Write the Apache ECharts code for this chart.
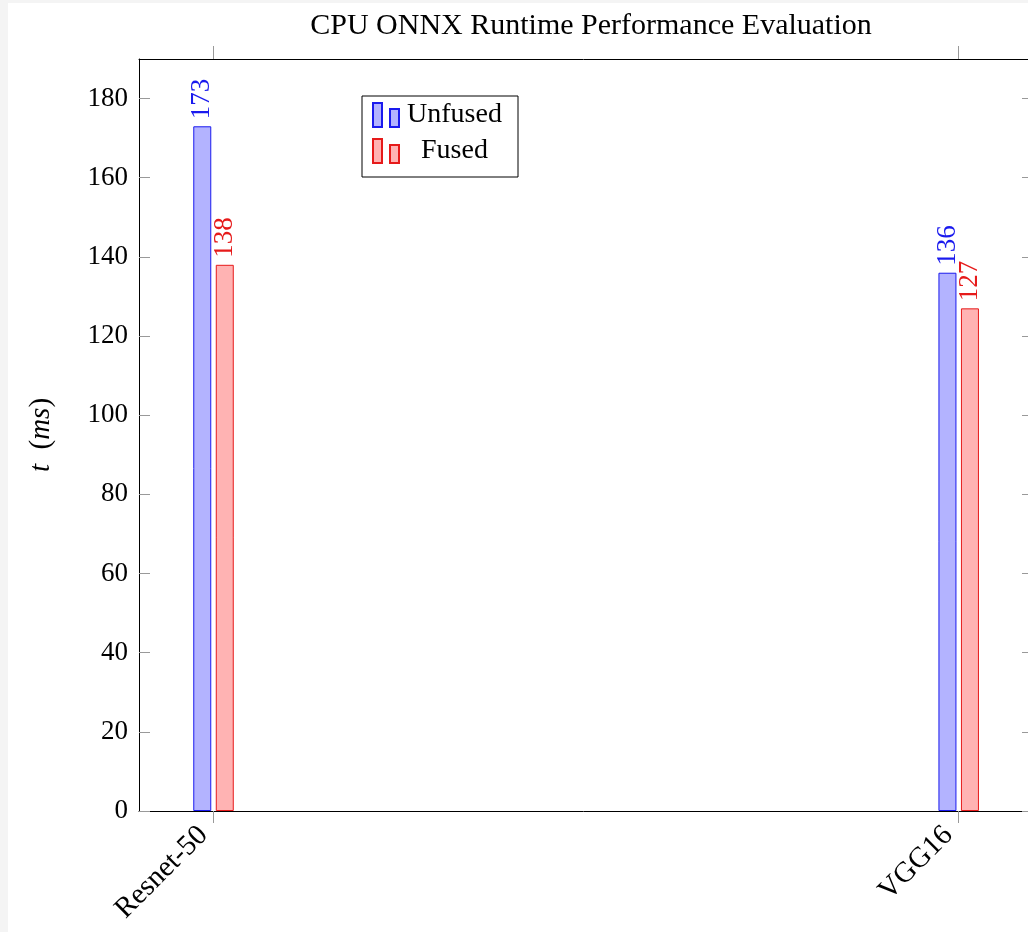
<!DOCTYPE html>
<html>
<head>
<meta charset="utf-8">
<script src="https://cdn.jsdelivr.net/npm/echarts@6/dist/echarts.min.js"></script>
<style>
  html, body { margin: 0; padding: 0; background: #f4f4f4; width: 1028px; height: 932px; overflow: hidden; }
  #chart { position: absolute; left: 8px; top: 3px; width: 1020px; height: 929px; background: #ffffff; }
</style>
</head>
<body>
<div id="chart"></div>
<script>
const categories = ['Resnet-50', 'VGG16'];
const unfused = [173, 136];
const fused = [138, 127];
const seriesNames = ['Unfused', 'Fused'];
const yTicks = [0, 20, 40, 60, 80, 100, 120, 140, 160, 180];
const xTicks = [0, 1];

const FONT = '"Liberation Serif", "DejaVu Serif", serif';
const chart = echarts.init(document.getElementById('chart'), null, { renderer: 'canvas' });

const labelCfg = (color) => ({
  show: true,
  position: 'top',
  distance: 7,
  rotate: 90,
  align: 'left',
  verticalAlign: 'middle',
  color: color,
  fontFamily: FONT,
  fontSize: 27,
  formatter: p => String(p.value[1])
});

const X_MIN = -0.1, X_MAX = 1.093;

const option = {
  animation: false,
  title: {
    text: 'CPU ONNX Runtime Performance Evaluation',
    left: 578,
    top: 3,
    textAlign: 'center',
    textStyle: { fontFamily: FONT, fontSize: 30, fontWeight: 'normal', color: '#000' }
  },
  legend: {
    orient: 'vertical',
    left: 354,
    top: 93,
    padding: [5, 13, 12, 10],
    itemGap: 8,
    itemWidth: 26,
    itemHeight: 24,
    borderColor: '#000',
    borderWidth: 1,
    icon: 'path://M0,0h9v24h-9z M17,6h9v18h-9z',
    data: seriesNames,
    formatter: '{a|{name}}',
    textStyle: {
      fontFamily: FONT,
      fontSize: 28,
      color: '#000',
      lineHeight: 24,
      rich: { a: { width: 101, align: 'center', fontFamily: FONT, fontSize: 28, color: '#000', lineHeight: 24 } }
    }
  },
  grid: { left: 131, right: 0, top: 56, bottom: 121, containLabel: false },
  xAxis: [
    {
      type: 'value',
      position: 'bottom',
      min: X_MIN,
      max: X_MAX,
      splitLine: { show: false },
      axisLine: { show: true, onZero: false, lineStyle: { color: '#000', width: 1 } },
      axisTick: { show: true, inside: false, length: 12, customValues: xTicks, lineStyle: { color: '#999' } },
      axisLabel: {
        customValues: xTicks,
        rotate: 45,
        margin: 30,
        verticalAlign: 'bottom',
        fontFamily: FONT,
        fontSize: 29,
        color: '#000',
        formatter: v => categories[Math.round(v)] || ''
      }
    },
    {
      type: 'value',
      position: 'top',
      min: X_MIN,
      max: X_MAX,
      splitLine: { show: false },
      axisLine: { show: true, onZero: false, lineStyle: { color: '#000', width: 1 } },
      axisTick: { show: true, inside: false, length: 13, customValues: xTicks, lineStyle: { color: '#999' } },
      axisLabel: { show: false }
    }
  ],
  yAxis: [
    {
      type: 'value',
      position: 'left',
      min: 0,
      max: 190,
      name: '{i|t}  ({i|ms})',
      nameLocation: 'middle',
      nameGap: 83,
      nameRotate: 90,
      nameTextStyle: {
        fontFamily: FONT, fontSize: 29, color: '#000',
        rich: { i: { fontFamily: FONT, fontSize: 29, fontStyle: 'italic', color: '#000' } }
      },
      splitLine: { show: false },
      axisLine: { show: true, onZero: false, lineStyle: { color: '#000', width: 1 } },
      axisTick: { show: true, inside: true, length: 11, customValues: yTicks, lineStyle: { color: '#999' } },
      axisLabel: { customValues: yTicks, margin: 11, fontFamily: FONT, fontSize: 27, color: '#000' }
    },
    {
      type: 'value',
      position: 'right',
      offset: 5,
      min: 0,
      max: 190,
      splitLine: { show: false },
      axisLine: { show: true, onZero: false, lineStyle: { color: '#000', width: 1 } },
      axisTick: { show: true, inside: true, length: 11, customValues: yTicks, lineStyle: { color: '#999' } },
      axisLabel: { show: false }
    }
  ],
  series: [
    {
      name: seriesNames[0],
      type: 'bar',
      xAxisIndex: 0,
      yAxisIndex: 0,
      barWidth: 18,
      barGap: '25%',
      data: unfused.map((v, i) => [i, v]),
      itemStyle: { color: '#b3b3ff', borderColor: '#1a1aee', borderWidth: 1 },
      label: labelCfg('#1a1aee')
    },
    {
      name: seriesNames[1],
      type: 'bar',
      xAxisIndex: 0,
      yAxisIndex: 0,
      barWidth: 18,
      barGap: '25%',
      data: fused.map((v, i) => [i, v]),
      itemStyle: { color: '#ffb3b3', borderColor: '#e61a1a', borderWidth: 1 },
      label: labelCfg('#e61a1a')
    }
  ]
};
chart.setOption(option);
</script>
</body>
</html>
